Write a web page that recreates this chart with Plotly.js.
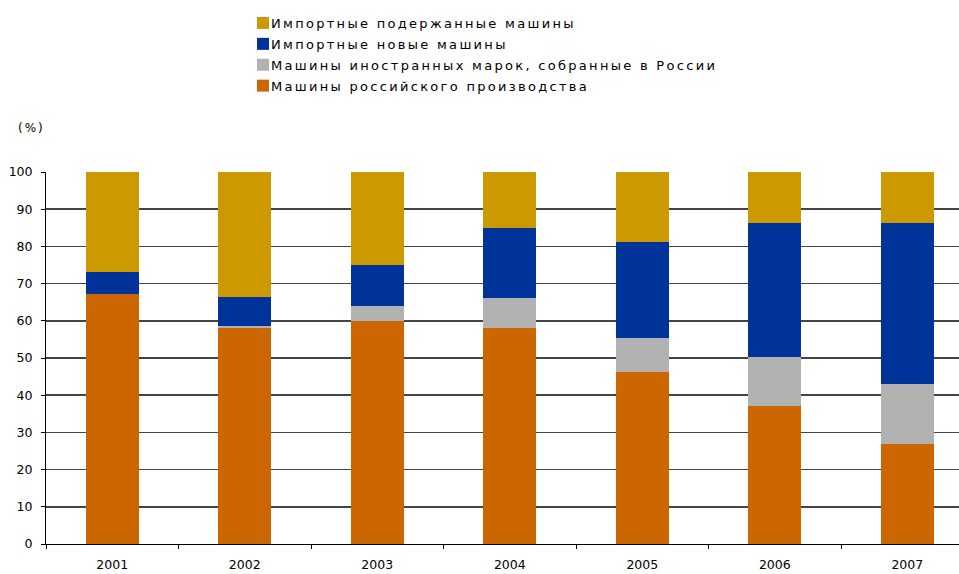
<!DOCTYPE html>
<html>
<head>
<meta charset="utf-8">
<script src="https://cdn.plot.ly/plotly-3.0.1.min.js"></script>
<style>
html,body{margin:0;padding:0;background:#fff;}
#chart{width:959px;height:574px;}
.legendtext{letter-spacing:2.3px; transform: translate(-12px, 0px);}
.annotation-text{letter-spacing:2px;}
</style>
</head>
<body>
<div id="chart"></div>
<script>
const years = ["2001","2002","2003","2004","2005","2006","2007"];
const russianMade = [67.2, 58.0, 59.9, 58.0, 46.3, 37.2, 27.0];
const foreignAssembled = [0.0, 0.7, 4.0, 8.2, 9.2, 13.0, 16.0];
const importedNew = [5.8, 7.6, 11.1, 18.8, 25.8, 36.0, 43.2];
const importedUsed = [27.0, 33.7, 25.0, 15.0, 18.7, 13.8, 13.8];

const names = [
  "Машины российского производства",
  "Машины иностранных марок, собранные в России",
  "Импортные новые машины",
  "Импортные подержанные машины"
];
const colors = ["#CC6600", "#B2B2B2", "#003399", "#CC9900"];
const series = [russianMade, foreignAssembled, importedNew, importedUsed];

const traces = series.map((vals, i) => ({
  type: "bar",
  x: years,
  y: vals,
  name: names[i],
  legendgroup: "g" + i,
  legendrank: 1000 + (series.length - i),
  marker: {color: colors[i], line: {width: 0}},
  width: 0.4,
  hoverinfo: "x+y+name"
}));

const tickFont = {family: "DejaVu Sans, Verdana, sans-serif", size: 12.5, color: "#000"};

const layout = {
  width: 959,
  height: 574,
  paper_bgcolor: "#ffffff",
  plot_bgcolor: "#ffffff",
  barmode: "stack",
  margin: {l: 46, r: 0, t: 172, b: 30},
  font: {family: "DejaVu Sans, Verdana, sans-serif", size: 12, color: "#000"},
  showlegend: true,
  legend: {
    traceorder: "grouped",
    orientation: "v",
    font: {family: "DejaVu Sans, Verdana, sans-serif", size: 13, color: "#000"},
    tracegroupgap: 1,
    itemwidth: 30,
    bgcolor: "rgba(0,0,0,0)"
  },
  xaxis: {
    type: "category",
    range: [-0.5, 6.39],
    showline: true,
    linecolor: "#000",
    linewidth: 1,
    ticks: "outside",
    tickson: "boundaries",
    ticklen: 4,
    tickcolor: "#000",
    showgrid: false,
    ticklabelstandoff: 9,
    tickfont: tickFont,
    fixedrange: true
  },
  yaxis: {
    range: [0, 100],
    tickvals: [0,10,20,30,40,50,60,70,80,90,100],
    showline: true,
    linecolor: "#000",
    linewidth: 1,
    ticks: "outside",
    ticklen: 4,
    tickcolor: "#000",
    showgrid: true,
    gridcolor: "#444444",
    gridwidth: 1.5,
    zeroline: false,
    ticklabelstandoff: 6,
    tickfont: tickFont,
    fixedrange: true
  },
  annotations: [{
    text: "(%)",
    xref: "paper", yref: "paper",
    x: (31 - 46) / 913, y: 1 + (172 - 128) / 372,
    xanchor: "center", yanchor: "middle",
    showarrow: false,
    font: {family: "DejaVu Sans, Verdana, sans-serif", size: 12, color: "#000"}
  }]
};
layout.legend.x = (243 - 46) / 913;
layout.legend.xanchor = "left";
layout.legend.y = 1.0 + (172 - 8) / 372;
layout.legend.yanchor = "top";

Plotly.newPlot("chart", traces, layout, {displayModeBar: false, staticPlot: true});
</script>
</body>
</html>
